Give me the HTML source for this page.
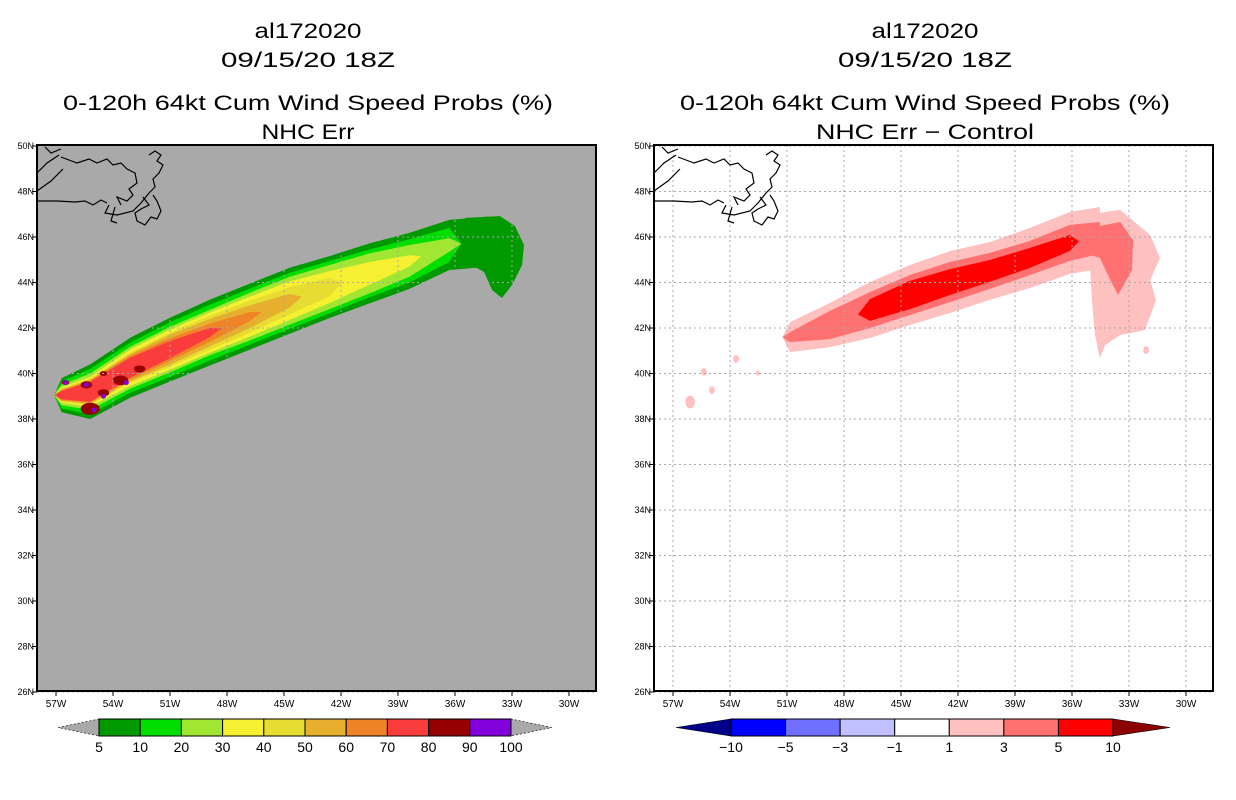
<!DOCTYPE html>
<html><head><meta charset="utf-8"><style>
body{margin:0;background:#fff;width:1236px;height:800px;overflow:hidden}
svg{display:block}
text{font-family:"Liberation Sans",sans-serif}
</style></head><body>
<svg id="c" width="1236" height="800">
<g id="L"></g>
<g id="R"></g>
</svg>
<script>
const NS="http://www.w3.org/2000/svg";
// ---- data ----
const lonTicks=[-57,-54,-51,-48,-45,-42,-39,-36,-33,-30];
const latTicks=[50,48,46,44,42,40,38,36,34,32,30,28,26];
const leftLevels=[5,10,20,30,40,50,60,70];
const leftColors=["#009900","#00dd00","#a0e632","#f5f032","#e6dc32","#e6af2d","#f08228","#fa3c3c"];
const trackLon=[-56.7,-55.2,-53.1,-51,-48.9,-46.8,-44.7,-42.6,-40.5,-38.4,-36.3,-34.2];
const trackLat=[39.05,39.2,40.25,41.05,41.8,42.5,43.2,43.8,44.4,44.95,45.65,45.8];
const hw5=[0.75,1.2,1.32,1.4,1.45,1.45,1.45,1.36,1.32,1.23,1.1,1.1];
const hw10=[0.6,1.0,1.1,1.2,1.23,1.23,1.23,1.15,1.05,0.95,0.75,0];
const hw20=[0.45,0.8,0.92,1.0,1.0,1.05,1.05,0.97,0.88,0.7,0.3,0];
const hw30=[0.35,0.65,0.8,0.88,0.88,0.88,0.85,0.7,0.5,0.25,0,0];
const hw40=[0.3,0.57,0.66,0.75,0.75,0.7,0.6,0.4,0,0,0,0];
const hw50=[0.26,0.53,0.6,0.66,0.6,0.5,0.3,0,0,0,0,0];
const hw60=[0.22,0.48,0.53,0.5,0.4,0.2,0,0,0,0,0,0];
const hw70=[0.18,0.44,0.44,0.38,0.2,0,0,0,0,0,0,0];
const hookLon=[-35.47,-33.63,-32.84,-32.37,-32.47,-33.0,-33.53,-34.05,-34.47,-35.21];
const hookLat=[46.84,46.92,46.48,45.65,44.77,43.89,43.32,43.67,44.46,44.81];
const blob80Lon=[-56.5,-55.4,-54.5,-53.6,-52.6,-54.5,-55.2];
const blob80Lat=[39.6,39.5,39.15,39.7,40.2,40.0,38.45];
const blob80R=[0.2,0.3,0.3,0.4,0.3,0.2,0.5];
const blob90Lon=[-56.5,-55.4,-54.5,-53.3,-55.0];
const blob90Lat=[39.6,39.5,39.0,39.6,38.4];
// right panel
const diffLon=[-50.84,-48.74,-46.63,-44.53,-42.42,-40.32,-38.21,-36.11,-34.53];
const diffLat=[41.6,42.13,42.79,43.45,44.02,44.51,45.08,45.74,45.96];
const dhw1=[0.66,0.97,1.23,1.32,1.36,1.27,1.32,1.36,1.36];
const dhw3=[0.22,0.62,0.79,0.88,0.88,0.79,0.75,0.79,0.7];
const dhw5=[0,0,0.48,0.62,0.57,0.48,0.44,0.35,0];
const dHook1Lon=[-35.32,-33.47,-31.89,-31.37,-31.89,-31.58,-32.16,-33.47,-34.26,-34.53,-34.79,-34.95,-35.05];
const dHook1Lat=[46.97,47.19,46.09,45.08,44.11,43.23,41.91,41.69,41.25,40.68,41.69,43.23,44.64];
const dHook3Lon=[-35.05,-33.47,-32.79,-32.84,-33.58,-34.11,-34.53,-35.05];
const dHook3Lat=[46.4,46.66,45.87,44.55,43.45,44.33,45.08,45.21];
const dBlobLon=[-55.37,-56.1,-54.95,-53.68,-52.53,-50.05,-49.1,-32.1];
const dBlobLat=[40.07,38.75,39.27,40.64,40.02,41.91,41.47,41.03];
const dBlobR=[0.15,0.25,0.15,0.15,0.1,0.35,0.3,0.15];
const leftBarLabels=["5","10","20","30","40","50","60","70","80","90","100"];
const leftBarColors=["#009900","#00dd00","#a0e632","#f5f032","#e6dc32","#e6af2d","#f08228","#fa3c3c","#960000","#8200dc"];
const rightBarLabels=["-10","-5","-3","-1","1","3","5","10"];
const rightBarColors=["#0000ff","#7070ff","#c0c0ff","#ffffff","#ffc0c0","#ff7070","#ff0000"];

function el(p,t,a){const e=document.createElementNS(NS,t);for(const k in a)e.setAttribute(k,a[k]);p.appendChild(e);return e;}
function mk(x0){return{px:lon=>x0+(lon+57)*19,py:lat=>146+(50-lat)*22.75};}
function band(P,lons,lats,hw){
  let a=hw.findIndex(v=>v>0),b=hw.length-1;while(b>=0&&hw[b]<=0)b--;
  if(a<0)return"";
  const up=[],lo=[];
  const f=0.3;
  if(a>0){const lo_=lons[a]+(lons[a-1]-lons[a])*f,la_=lats[a]+(lats[a-1]-lats[a])*f;up.push([P.px(lo_),P.py(la_)]);}
  else{up.push([P.px(lons[0]-0.4),P.py(lats[0])]);}
  for(let i=a;i<=b;i++){up.push([P.px(lons[i]),P.py(lats[i]+hw[i])]);lo.push([P.px(lons[i]),P.py(lats[i]-hw[i])]);}
  if(b<hw.length-1){const lo_=lons[b]+(lons[b+1]-lons[b])*f,la_=lats[b]+(lats[b+1]-lats[b])*f;up.push([P.px(lo_),P.py(la_)]);}
  const pts=up.concat(lo.reverse());
  return pts.map(p=>p[0].toFixed(1)+","+p[1].toFixed(1)).join(" ");
}
function poly(P,lons,lats){return lons.map((l,i)=>P.px(l).toFixed(1)+","+P.py(lats[i]).toFixed(1)).join(" ");}
const coast="M0,28 L10,18 L22,10 M0,46 L14,36 L26,24 M8,2 L14,8 L24,4 M0,56 L20,56 L38,57 L48,56 L56,60 L64,55 L70,58 M72,60 L68,68 L80,70 L96,66 L104,58 L112,48 L118,42 L116,34 L122,28 L126,20 L120,16 L124,10 L118,6 L112,10 M24,12 L40,18 L52,14 L60,18 L70,14 L76,20 L84,18 L90,24 L98,28 L100,38 L92,44 L96,50 L90,56 L80,52 L84,60 M106,52 L112,60 L104,64 L98,68 L100,76 L108,80 L114,72 L120,74 L124,66 L120,56 L116,50 M78,62 L74,76 L80,78";

function panel(g,x0,gray){
  const fx=x0-19,fw=559;
  el(g,"rect",{x:fx,y:145,width:fw,height:546,fill:gray?"#a9a9a9":"#fff",});
  return mk(x0);
}
function frame(g,x0,title2,w2){
  const P=mk(x0);const fx=x0-19,fw=559,cx=x0+252;
  lonTicks.forEach(l=>{const x=P.px(l);const ln=el(g,"line",{x1:x,x2:x,y1:145,y2:691,stroke:"#a9a9a9","stroke-dasharray":"2,3","stroke-width":1});});
  latTicks.forEach(l=>{const y=P.py(l);const ln=el(g,"line",{x1:fx,x2:fx+fw,y1:y,y2:y,stroke:"#a9a9a9","stroke-dasharray":"2,3","stroke-width":1});});
  const c=el(g,"path",{d:coast,transform:`translate(${fx},${145})`,fill:"none",stroke:"#000","stroke-width":1.2});
  
  el(g,"rect",{x:fx,y:145,width:fw,height:546,fill:"none",stroke:"#000","stroke-width":2,});
  lonTicks.forEach(l=>{const x=P.px(l);el(g,"line",{x1:x,x2:x,y1:691,y2:696,stroke:"#000"});
    const t=el(g,"text",{x:x,y:707,"font-size":10,"text-anchor":"middle"});t.textContent=(-l)+"W";
    });
  latTicks.forEach(l=>{const y=P.py(l);el(g,"line",{x1:fx-5,x2:fx,y1:y,y2:y,stroke:"#000"});
    const t=el(g,"text",{x:fx-3,y:y+3,"font-size":9,"text-anchor":"end"});t.textContent=l+"N";
    });
  const lines=[["al172020",38,107],["09/15/20 18Z",67,174],["0-120h 64kt Cum Wind Speed Probs (%)",110,490],[title2,139,w2]];
  lines.forEach(([s,y,w])=>{const t=el(g,"text",{x:cx,y:y,"font-size":21,"text-anchor":"middle",textLength:w,lengthAdjust:"spacingAndGlyphs"});t.textContent=s;
    });
}
function colorbar(g,x0,x1,tipL,tipR,cols,labels){
  const n=cols.length,w=(x1-x0)/n;
  el(g,"polygon",{points:`${tipL},727.5 ${x0},719 ${x0},736`,fill:cols.tl,stroke:"#000","stroke-width":0.6,"stroke-dasharray":cols.dash});
  el(g,"polygon",{points:`${tipR},727.5 ${x1},719 ${x1},736`,fill:cols.tr,stroke:"#000","stroke-width":0.6,"stroke-dasharray":cols.dash});
  cols.forEach((c,i)=>{const r=el(g,"rect",{x:x0+i*w,y:719,width:w,height:17,fill:c,stroke:"#000","stroke-width":1});
    });
  labels.forEach((s,i)=>{const t=el(g,"text",{x:x0+i*w,y:752,"font-size":14,"text-anchor":"middle"});t.textContent=s.replace("-","\u2212");
    });
}
// LEFT
const gL=document.getElementById("L");
const PL=panel(gL,56,true);
const hk=el(gL,"polygon",{points:poly(PL,hookLon,hookLat),fill:"#009900"});

[hw5,hw10,hw20,hw30,hw40,hw50,hw60,hw70].forEach((hw,i)=>{
  const p=el(gL,"polygon",{points:band(PL,trackLon,trackLat,hw),fill:leftColors[i],"stroke-linejoin":"round"});
  
});
blob80Lon.forEach((l,i)=>{const e=el(gL,"ellipse",{cx:PL.px(l),cy:PL.py(blob80Lat[i]),rx:blob80R[i]*19,ry:blob80R[i]*12,fill:"#960000"});
  });
blob90Lon.forEach((l,i)=>{const e=el(gL,"circle",{cx:PL.px(l),cy:PL.py(blob90Lat[i]),r:2.5,fill:"#8200dc"});
  });
frame(gL,56,"NHC Err",93);
const lc=leftBarColors.slice();lc.tl="#a9a9a9";lc.tr="#a9a9a9";lc.dash="2,2";
colorbar(gL,99,511,58,552,lc,leftBarLabels);
// RIGHT
const gR=document.getElementById("R");
const PR=panel(gR,673,false);
const h1=el(gR,"polygon",{points:poly(PR,dHook1Lon,dHook1Lat),fill:"#ffc0c0"});

const b1=el(gR,"polygon",{points:band(PR,diffLon,diffLat,dhw1),fill:"#ffc0c0"});

dBlobLon.forEach((l,i)=>{const e=el(gR,"ellipse",{cx:PR.px(l),cy:PR.py(dBlobLat[i]),rx:dBlobR[i]*19,ry:dBlobR[i]*26,fill:"#ffc0c0"});
  });
const h3=el(gR,"polygon",{points:poly(PR,dHook3Lon,dHook3Lat),fill:"#ff7070"});

const b3=el(gR,"polygon",{points:band(PR,diffLon,diffLat,dhw3),fill:"#ff7070"});

const b5=el(gR,"polygon",{points:band(PR,diffLon,diffLat,dhw5),fill:"#ff0000"});

frame(gR,673,"NHC Err \u2212 Control",218);
const rc=rightBarColors.slice();rc.tl="#00008b";rc.tr="#8b0000";rc.dash="none";
colorbar(gR,731,1113,676,1170,rc,rightBarLabels);
</script>
</body></html>
